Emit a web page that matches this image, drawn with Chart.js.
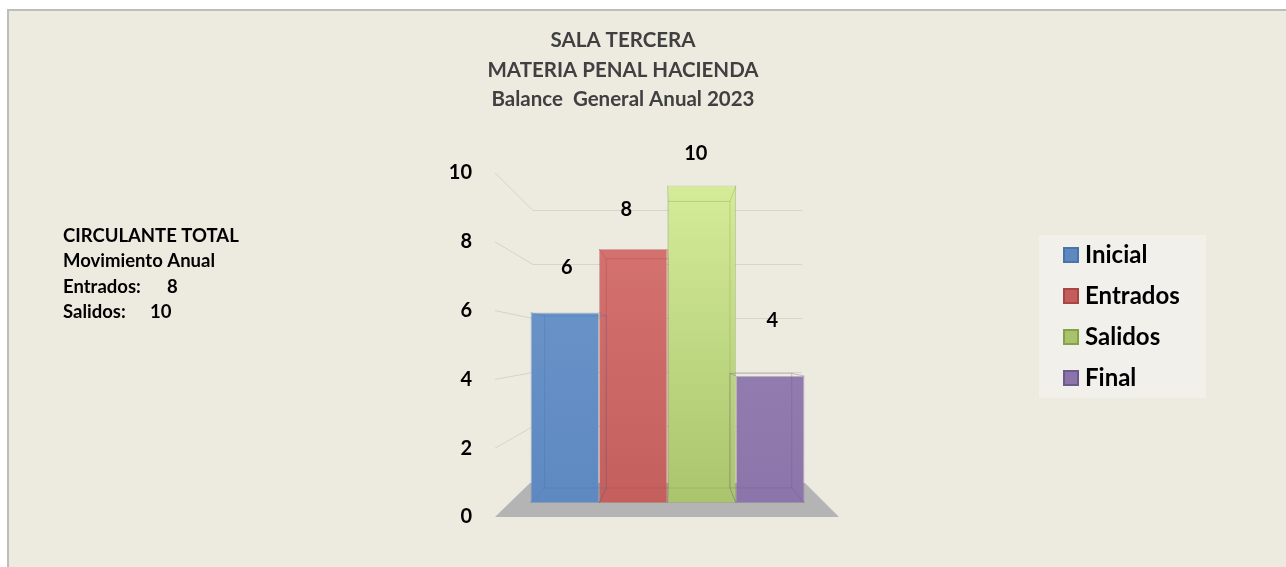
<!DOCTYPE html>
<html>
<head>
<meta charset="utf-8">
<title>Sala Tercera - Balance General Anual 2023</title>
<script src="https://cdn.jsdelivr.net/npm/chart.js@4/dist/chart.umd.min.js"></script>
<style>
    html, body { margin: 0; padding: 0; background: #fff; }
    canvas { display: block; }
</style>
</head>
<body>
<canvas id="balanceChart" width="1286" height="567"></canvas>
<script>
const categories = ['Inicial', 'Entrados', 'Salidos', 'Final'];
const values = [6, 8, 10, 4];
const tickValues = [0, 2, 4, 6, 8, 10];
const titleLines = ['SALA TERCERA', 'MATERIA PENAL HACIENDA', 'Balance  General Anual 2023'];
const noteLines = ['CIRCULANTE TOTAL', 'Movimiento Anual'];

// light / dark shade of each bar
const barShades = [
    ['#6F99CD', '#5D88C0'],
    ['#D87774', '#C35E5C'],
    ['#D6ED9A', '#A8C36B'],
    ['#9C87B7', '#8A74A9']
];
const edgeColors = ['#4A74A8', '#A84644', '#86A04C', '#6D5A8A'];

const FONT = '"Lato", "Liberation Sans", sans-serif';
Chart.defaults.font.family = FONT;

// perspective tweaks (Excel 3D look)
const labelLift = [45, 39, 32, 55];
const labelShift = [2, -7, -6, 2];

function barGradient(i) {
    return function (ctx) {
        const chart = ctx.chart;
        const area = chart.chartArea;
        if (!area) return barShades[i][1];
        const g = chart.ctx.createLinearGradient(0, area.top, 0, area.bottom);
        g.addColorStop(0, barShades[i][0]);
        g.addColorStop(1, barShades[i][1]);
        return g;
    };
}

const datasets = categories.map((name, i) => ({
    label: name,
    data: [values[i]],
    yAxisID: 'yb',
    backgroundColor: barGradient(i),
    borderColor: edgeColors[i] + '66',
    borderWidth: 1,
    borderSkipped: false,
    barPercentage: 1,
    categoryPercentage: 0.794
}));

function backY(chart, px) {
    const yb = chart.scales.yb;
    const vy = yb.getPixelForValue(0) - 152;
    return vy + 0.853 * (px - vy);
}

const frame = {
    id: 'frame',
    beforeDraw(chart) {
        const c = chart.ctx;
        c.save();
        c.fillStyle = '#ffffff';
        c.fillRect(0, 0, chart.width, chart.height);
        c.fillStyle = '#EDEAE0';
        c.fillRect(8, 10, chart.width, chart.height);
        c.fillStyle = '#BDBDBD';
        c.fillRect(7, 9, 2, chart.height);
        c.fillRect(7, 9, chart.width, 2);
        c.restore();
    }
};

const backWall = {
    id: 'backWall',
    beforeDatasetsDraw(chart) {
        const c = chart.ctx;
        const a = chart.chartArea;
        const y = chart.scales.y;
        const yb = chart.scales.yb;
        c.save();
        // grid lines bent onto the back wall
        c.strokeStyle = '#D6D4CB';
        c.lineWidth = 1;
        tickValues.forEach(v => {
            if (v === 0) return;
            const by = Math.round(backY(chart, yb.getPixelForValue(v))) + 0.5;
            c.beginPath();
            c.moveTo(a.left, y.getPixelForValue(v));
            c.lineTo(a.left + 38, by);
            c.lineTo(a.right - 38, by);
            c.stroke();
        });
        // floor
        const fy = y.getPixelForValue(0);
        c.fillStyle = '#B4B4B4';
        c.beginPath();
        c.moveTo(a.left, fy);
        c.lineTo(a.right - 1, fy);
        c.lineTo(a.right - 35, fy - 34);
        c.lineTo(a.left + 35, fy - 34);
        c.closePath();
        c.fill();
        c.restore();
    },
    afterDatasetsDraw(chart) {
        const c = chart.ctx;
        const a = chart.chartArea;
        const yb = chart.scales.yb;
        const vx = (a.left + a.right) / 2 + 6.5;
        const vy = yb.getPixelForValue(0) - 154;
        const s = 0.9025;
        const p = (x, yy) => [vx + s * (x - vx), vy + s * (yy - vy)];
        c.save();
        chart.data.datasets.forEach((ds, i) => {
            const bar = chart.getDatasetMeta(i).data[0];
            const L = bar.x - bar.width / 2, R = bar.x + bar.width / 2;
            const T = bar.y, B = bar.base;
            const corners = [[L, T], [R, T], [R, B], [L, B]];
            const back = corners.map(q => p(q[0], q[1]));
            c.strokeStyle = edgeColors[i] + '55';
            c.lineWidth = 1;
            c.beginPath();
            back.forEach((q, k) => k ? c.lineTo(q[0], q[1]) : c.moveTo(q[0], q[1]));
            c.closePath();
            c.stroke();
            corners.forEach((q, k) => {
                c.beginPath();
                c.moveTo(q[0], q[1]);
                c.lineTo(back[k][0], back[k][1]);
                c.stroke();
            });
            // value label
            c.fillStyle = '#000';
            c.font = 'bold 20px ' + FONT;
            c.textAlign = 'center';
            c.textBaseline = 'middle';
            c.fillText(String(ds.data[0]), bar.x + labelShift[i], bar.y - labelLift[i]);
        });
        c.restore();
    }
};

const overlay = {
    id: 'overlay',
    afterDraw(chart) {
        const c = chart.ctx;
        c.save();
        c.textBaseline = 'alphabetic';
        // title
        c.fillStyle = '#404040';
        c.font = 'bold 20.5px ' + FONT;
        c.textAlign = 'center';
        titleLines.forEach((t, i) => c.fillText(t, 623, 47 + i * 29.5));

        // side note
        c.fillStyle = '#000';
        c.font = 'bold 18.5px ' + FONT;
        c.textAlign = 'left';
        noteLines.forEach((t, i) => c.fillText(t, 63, 242 + i * 25.4));
        c.fillText('Entrados:', 63, 293);
        c.fillText(String(values[1]), 167, 293);
        c.fillText('Salidos:', 63, 318);
        c.fillText(String(values[2]), 150, 318);

        // legend
        c.fillStyle = '#F1F0EA';
        c.fillRect(1039, 235, 167, 163);
        c.font = 'bold 24px ' + FONT;
        chart.data.datasets.forEach((ds, i) => {
            const cy = 255 + i * 41;
            c.fillStyle = barShades[i][1];
            c.fillRect(1064, cy - 7, 14, 14);
            c.strokeStyle = edgeColors[i];
            c.lineWidth = 2;
            c.strokeRect(1064, cy - 7, 14, 14);
            c.fillStyle = '#000';
            c.fillText(ds.label, 1085, cy + 8);
        });
        c.restore();
    }
};

new Chart(document.getElementById('balanceChart'), {
    type: 'bar',
    data: { labels: [''], datasets: datasets },
    options: {
        responsive: false,
        animation: false,
        events: [],
        layout: { padding: { left: 425, right: 446, top: 173, bottom: 50 } },
        plugins: {
            legend: { display: false },
            title: { display: false },
            tooltip: { enabled: false }
        },
        scales: {
            x: { display: false },
            y: {
                position: 'left',
                min: 0,
                max: 10,
                afterBuildTicks(axis) { axis.ticks = tickValues.map(v => ({ value: v })); },
                afterFit(axis) { axis.width = 70; },
                grid: { display: false, drawTicks: false },
                border: { display: false },
                ticks: {
                    padding: 23,
                    color: '#000',
                    font: { size: 20, weight: 'bold' }
                }
            },
            yb: {
                display: false,
                min: -0.441,
                max: 10.394
            }
        }
    },
    plugins: [frame, backWall, overlay]
});
</script>
</body>
</html>
